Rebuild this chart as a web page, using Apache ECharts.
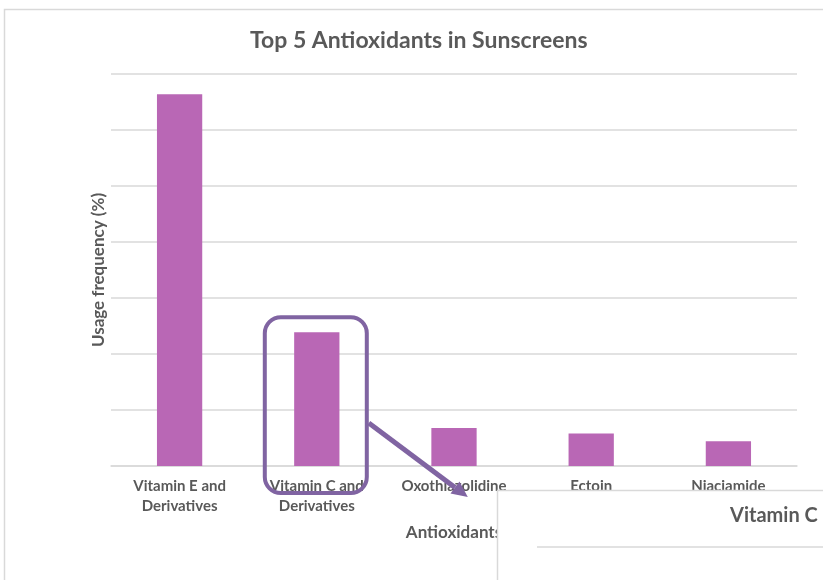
<!DOCTYPE html>
<html>
<head>
<meta charset="utf-8">
<script src="https://cdn.jsdelivr.net/npm/echarts@6/dist/echarts.min.js"></script>
<style>
  html, body { margin: 0; padding: 0; background: #fff; }
  #chart { width: 823px; height: 580px; }
</style>
</head>
<body>
<div id="chart"></div>
<script>
// Antioxidant usage in sunscreen formulations
const categories = ['Vitamin E and\nDerivatives', 'Vitamin C and\nDerivatives', 'Oxothiazolidine', 'Ectoin', 'Niaciamide'];
const usage = [66.4, 23.9, 6.8, 5.8, 4.4];
const highlightIndex = 1;
const insetTitle = 'Vitamin C';

const FONT = 'Lato, "Open Sans", sans-serif';
const TEXT = '#595959';
const PURPLE = '#8064a2';
const GRIDLINE = '#d9d9d9';

const chart = echarts.init(document.getElementById('chart'), null, { renderer: 'canvas' });

chart.setOption({
  animation: false,
  backgroundColor: '#ffffff',
  textStyle: { fontFamily: FONT },
  title: {
    text: 'Top 5 Antioxidants in Sunscreens',
    left: 245,
    top: 24,
    textStyle: { fontFamily: FONT, fontSize: 23, fontWeight: 'bold', color: TEXT }
  },
  grid: { left: 111, right: 26, top: 74, bottom: 114, containLabel: false },
  xAxis: {
    type: 'category',
    data: categories,
    name: 'Antioxidants',
    nameLocation: 'middle',
    nameGap: 58,
    nameTextStyle: { fontFamily: FONT, fontSize: 17, fontWeight: 'bold', color: TEXT },
    axisLine: { lineStyle: { color: GRIDLINE, width: 1.5 } },
    axisTick: { show: false },
    axisLabel: {
      interval: 0,
      margin: 10,
      lineHeight: 20,
      fontFamily: FONT,
      fontSize: 15,
      fontWeight: 'bold',
      color: TEXT
    }
  },
  yAxis: {
    type: 'value',
    min: 0,
    max: 70,
    interval: 10,
    name: 'Usage frequency (%)',
    nameLocation: 'middle',
    nameGap: 4,
    nameRotate: 90,
    nameTextStyle: { fontFamily: FONT, fontSize: 17, fontWeight: 'bold', color: TEXT },
    axisLine: { show: false },
    axisTick: { show: false },
    axisLabel: { show: false },
    splitLine: { lineStyle: { color: GRIDLINE, width: 1.5 } }
  },
  series: [{
    type: 'bar',
    data: usage,
    barWidth: '33%',
    itemStyle: { color: '#b967b5' }
  }]
});

// Call-out around the highlighted bar, an arrow and the inset panel
function drawCallout() {
  const base = chart.convertToPixel({ xAxisIndex: 0, yAxisIndex: 0 }, [highlightIndex, 0]);
  const top = chart.convertToPixel({ xAxisIndex: 0, yAxisIndex: 0 }, [highlightIndex, usage[highlightIndex]]);
  const cx = base[0];
  const boxLeft = cx - 52;
  const boxRight = cx + 50;
  const boxTop = top[1] - 15;
  const boxBottom = base[1] + 27;

  const arrowStart = [boxRight + 2, base[1] - 43];
  const arrowEnd = [boxRight + 101, base[1] + 31];
  const dx = arrowEnd[0] - arrowStart[0];
  const dy = arrowEnd[1] - arrowStart[1];
  const len = Math.sqrt(dx * dx + dy * dy);
  const ux = dx / len, uy = dy / len;
  const headLen = 16, headHalf = 7.5;
  const back = [arrowEnd[0] - ux * headLen, arrowEnd[1] - uy * headLen];
  const head = [
    arrowEnd,
    [back[0] - uy * headHalf, back[1] + ux * headHalf],
    [back[0] + uy * headHalf, back[1] - ux * headHalf]
  ];

  chart.setOption({
    graphic: [
      {
        type: 'rect', z: 100,
        shape: { x: 4.5, y: 9.5, width: 830, height: 600 },
        style: { fill: 'none', stroke: GRIDLINE, lineWidth: 1.5 },
        silent: true
      },
      {
        type: 'rect', z: 110,
        shape: { x: boxLeft, y: boxTop, width: boxRight - boxLeft, height: boxBottom - boxTop, r: 16 },
        style: { fill: 'none', stroke: PURPLE, lineWidth: 4 },
        silent: true
      },
      {
        type: 'line', z: 110,
        shape: { x1: arrowStart[0], y1: arrowStart[1], x2: back[0], y2: back[1] },
        style: { stroke: PURPLE, lineWidth: 5 },
        silent: true
      },
      {
        type: 'polygon', z: 111,
        shape: { points: head },
        style: { fill: PURPLE },
        silent: true
      },
      {
        type: 'rect', z: 120,
        shape: { x: 497.5, y: 490.5, width: 340, height: 100 },
        style: { fill: '#ffffff', stroke: GRIDLINE, lineWidth: 1.5 },
        silent: true
      },
      {
        type: 'text', z: 121,
        x: 730, y: 516,
        style: {
          text: insetTitle,
          fontFamily: FONT, fontSize: 20, fontWeight: 'bold',
          fill: TEXT, verticalAlign: 'middle', align: 'left'
        },
        silent: true
      },
      {
        type: 'line', z: 121,
        shape: { x1: 537, y1: 547, x2: 830, y2: 547 },
        style: { stroke: GRIDLINE, lineWidth: 1.5 },
        silent: true
      }
    ]
  });
}
drawCallout();
</script>
</body>
</html>
